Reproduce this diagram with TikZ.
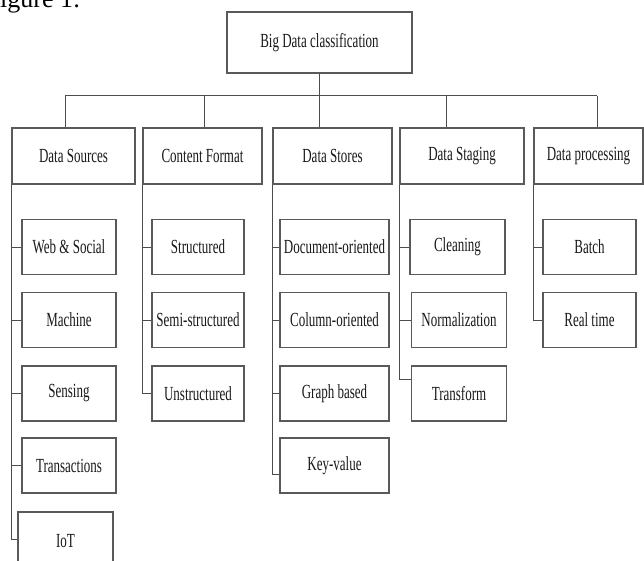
\documentclass[tikz,border=0pt]{standalone}
\usepackage{fontspec}
\setmainfont[FakeStretch=0.65]{Liberation Serif}
\newfontfamily\capfont{Liberation Serif}
\begin{document}
\begin{tikzpicture}[x=1pt,y=-1pt,
  box/.style={draw=black!65, line width=1.3pt, rectangle, inner sep=0pt,
    font=\fontsize{20}{22}\selectfont, text=black!90},
  cat/.style={box, minimum height=56pt},
  leaf/.style={box, minimum height=55pt},
  conn/.style={draw=black!70, line width=1pt}]
\useasboundingbox (0,0) rectangle (644,561);
\begin{scope}
\clip (0,0) rectangle (644,561);
\node[anchor=base west, inner sep=0pt, font=\capfont\fontsize{26}{28}\selectfont] (cap) at (-14.5,8) {Figure 1:};

\node[box, minimum width=185pt, minimum height=61pt] (root) at (319.5,42.5) {Big Data classification};

\node[cat, minimum width=123pt] (ds) at (73.5,156) {Data Sources};
\node[cat, minimum width=119pt] (cf) at (202.5,156) {Content Format};
\node[cat, minimum width=119pt] (dst) at (332.5,156) {Data Stores};
\node[cat, minimum width=124pt] (dsg) at (462,156) {Data Staging};
\node[cat, minimum width=109pt] (dp) at (588.5,156) {Data processing};

\node[leaf, minimum width=94pt] (web) at (69,247) {Web \& Social};
\node[leaf, minimum width=94pt] (mac) at (69,320) {Machine};
\node[leaf, minimum width=94pt] (sen) at (69,393.5) {Sensing};
\node[leaf, minimum width=94pt] (tra) at (69,465.5) {Transactions};
\node[box, minimum width=95pt, minimum height=58pt] (iot) at (65.5,541) {IoT};

\node[leaf, minimum width=92pt] (str) at (198,247) {Structured};
\node[leaf, minimum width=92pt] (sem) at (198,320) {Semi-structured};
\node[leaf, minimum width=92pt] (uns) at (198,393.5) {Unstructured};

\node[leaf, minimum width=109pt] (doc) at (334.5,247) {Document-oriented};
\node[leaf, minimum width=109pt] (col) at (334.5,320) {Column-oriented};
\node[leaf, minimum width=109pt] (gra) at (334.5,393.5) {Graph based};
\node[leaf, minimum width=109pt] (kv) at (334.5,465.5) {Key-value};

\node[leaf, minimum width=95pt] (cle) at (457.5,247) {Cleaning};
\node[leaf, minimum width=95pt] (nor) at (459,320) {Normalization};
\node[leaf, minimum width=95pt] (trf) at (459,393.5) {Transform};

\node[leaf, minimum width=93pt] (bat) at (589.5,247) {Batch};
\node[leaf, minimum width=93pt] (rt) at (589.5,320) {Real time};

% bus
\coordinate (b1) at (65,96);
\coordinate (b2) at (204,96);
\coordinate (b4) at (446,96);
\coordinate (b5) at (597,96);
\draw[conn] (b1) -- (b5);
\draw[conn] (root.south) -- (root.south |- dst.north);
\draw[conn] (b1) -- (b1 |- ds.north);
\draw[conn] (b2) -- (b2 |- cf.north);
\draw[conn] (b4) -- (b4 |- dsg.north);
\draw[conn] (b5) -- (b5 |- dp.north);

% Data Sources
\draw[conn] (ds.south west) |- ([yshift=2pt]iot.west);
\draw[conn] (ds.south west |- web.west) -- (web.west);
\draw[conn] (ds.south west |- mac.west) -- (mac.west);
\draw[conn] (ds.south west |- sen.west) -- (sen.west);
\draw[conn] (ds.south west |- tra.west) -- (tra.west);

% Content Format
\draw[conn] (cf.south west) |- (uns.west);
\draw[conn] (cf.south west |- str.west) -- (str.west);
\draw[conn] (cf.south west |- sem.west) -- (sem.west);

% Data Stores
\draw[conn] (dst.south west) |- ([yshift=-9pt]kv.west);
\draw[conn] (dst.south west |- doc.west) -- (doc.west);
\draw[conn] (dst.south west |- col.west) -- (col.west);
\draw[conn] (dst.south west |- gra.west) -- (gra.west);

% Data Staging
\draw[conn] (dsg.south west) |- ([yshift=14pt]trf.west);
\draw[conn] (dsg.south west |- cle.west) -- (cle.west);
\draw[conn] (dsg.south west |- nor.west) -- (nor.west);

% Data processing
\draw[conn] (dp.south west) |- (rt.west);
\draw[conn] (dp.south west |- bat.west) -- (bat.west);
\end{scope}
\end{tikzpicture}
\end{document}
